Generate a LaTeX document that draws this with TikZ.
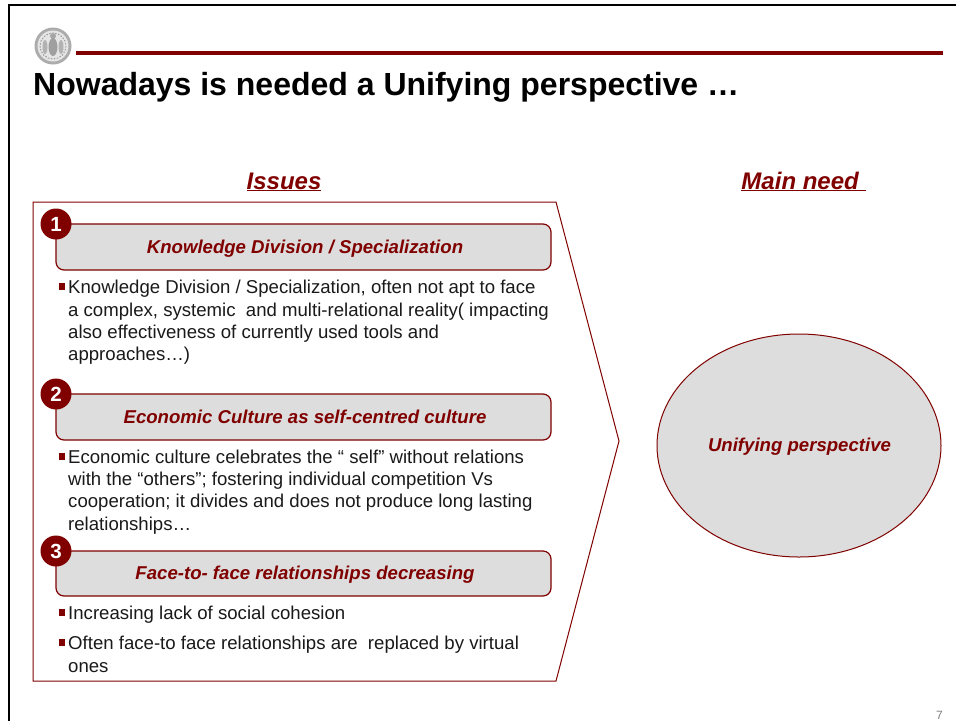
\documentclass[tikz,border=0pt]{standalone}
\usepackage{fontspec}
\setmainfont{Liberation Sans}
\definecolor{dred}{HTML}{800000}
\definecolor{lgray}{HTML}{DDDDDD}
\definecolor{bodyk}{HTML}{1A1A1A}
\begin{document}
\begin{tikzpicture}[x=1pt,y=-1pt,
  bodyline/.style={anchor=base west,inner sep=0pt,text=bodyk,font=\fontsize{18.6}{22}\selectfont},
  headbox/.style={draw=dred,line width=1.2pt,fill=lgray,rounded corners=8pt},
  headtext/.style={anchor=center,inner sep=0pt,text=dred,font=\fontsize{18.6}{22}\selectfont\bfseries\itshape},
  numdot/.style={circle,fill=dred,minimum size=31pt,inner sep=0pt,text=white,font=\fontsize{20.5}{24}\selectfont\bfseries},
  bulletmark/.style={fill=dred,minimum size=6.5pt,inner sep=0pt},
  coltitle/.style={anchor=base,inner sep=0pt,text=dred,font=\fontsize{24}{28}\selectfont\bfseries\itshape}]
\useasboundingbox (0,0) rectangle (956,721);
\fill[white] (0,0) rectangle (956,721);
% frame
\draw[black,line width=2.6pt] (9,721) -- (9,5) -- (956,5);
% seal
\fill[gray!65] (53,46) circle (18.5);
\fill[gray!20] (53,46) circle (15.5);
\draw[gray!75,line width=1pt,dash pattern=on 1.5pt off 1.5pt] (53,46) circle (13);
\fill[gray!20] (53,46) circle (11);
\fill[gray!70] (53,36) circle (3);
\fill[gray!75] (53,47) ellipse (4.5 and 9);
\fill[gray!60] (45,47) ellipse (2.5 and 7);
\fill[gray!60] (61,47) ellipse (2.5 and 7);
% title rule
\draw[dred,line width=3.6pt] (76,53) -- (943,53);
\node[anchor=base west,inner sep=0pt,font=\fontsize{32}{36}\selectfont\bfseries] (title) at (33,95) {Nowadays is needed a Unifying perspective …};
% column titles
\node[coltitle] (issues) at (284,189) {\underline{Issues}};
\node[coltitle] (need) at (803.5,189) {\underline{Main need\ }};
% pentagon
\draw[dred,line width=1pt] (33,202) -- (556,202) -- (619,441) -- (556,681) -- (33,681) -- cycle;
% heading boxes
\draw[headbox] (56,224) rectangle (551,270);
\draw[headbox] (56,394) rectangle (551,440);
\draw[headbox] (56,551) rectangle (551,596);
\node[headtext] (h1) at (305,248.5) {Knowledge Division / Specialization};
\node[headtext] (h2) at (305,417) {Economic Culture as self-centred culture};
\node[headtext] (h3) at (305,574.5) {Face-to- face relationships decreasing};
\node[numdot] (n1) at (56,224) {1};
\node[numdot] (n2) at (56,394) {2};
\node[numdot] (n3) at (56,551) {3};
% body 1
\node[bulletmark] (b1) at (62,286.5) {};
\node[bodyline] (t11) at (68,293) {Knowledge Division / Specialization, often not apt to face};
\node[bodyline] (t12) at (68,316) {a complex, systemic\ \ and multi-relational reality( impacting};
\node[bodyline] (t13) at (68,338) {also effectiveness of currently used tools and};
\node[bodyline] (t14) at (68,360) {approaches…)};
% body 2
\node[bulletmark] (b2) at (62,456.5) {};
\node[bodyline] (t21) at (68,463) {Economic culture celebrates the “ self” without relations};
\node[bodyline] (t22) at (68,485) {with the “others”; fostering individual competition Vs};
\node[bodyline] (t23) at (68,507) {cooperation; it divides and does not produce long lasting};
\node[bodyline] (t24) at (68,530) {relationships…};
% body 3
\node[bulletmark] (b3) at (62,612.5) {};
\node[bodyline] (t31) at (68,619) {Increasing lack of social cohesion};
\node[bulletmark] (b4) at (62,642.5) {};
\node[bodyline] (t32) at (68,649) {Often face-to face relationships are\ \ replaced by virtual};
\node[bodyline] (t33) at (68,672) {ones};
% ellipse
\draw[dred,line width=1pt,fill=lgray] (799,445.5) ellipse (142 and 111.5);
\node[headtext] (u) at (799.5,446.5) {Unifying perspective};
% page number
\node[anchor=base east,inner sep=0pt,text=gray,font=\fontsize{12}{14}\selectfont] (pg) at (943,719) {7};
\end{tikzpicture}
\end{document}
